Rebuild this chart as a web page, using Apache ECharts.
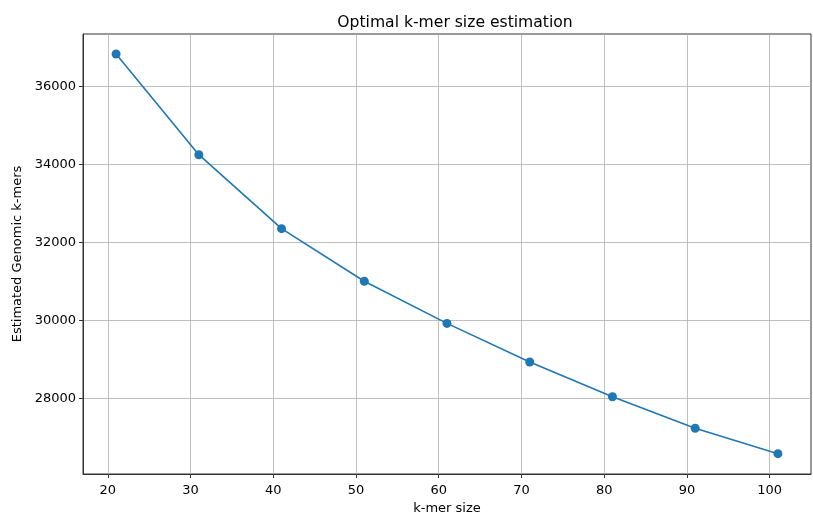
<!DOCTYPE html>
<html>
<head>
<meta charset="utf-8">
<script src="https://cdn.jsdelivr.net/npm/echarts@6/dist/echarts.min.js"></script>
<style>
  html, body { margin: 0; padding: 0; background: #fff; }
  #main { width: 813px; height: 513px; }
</style>
</head>
<body>
<div id="main"></div>
<script>
// k-mer sizes and estimated genomic k-mers
var kmerSizes = [21, 31, 41, 51, 61, 71, 81, 91, 101];
var genomicKmers = [36838, 34256, 32359, 31012, 29931, 28941, 28051, 27241, 26590];
var xTicks = [20, 30, 40, 50, 60, 70, 80, 90, 100];
var yTicks = [28000, 30000, 32000, 34000, 36000];

var myChart = echarts.init(document.getElementById('main'));

var font = 'DejaVu Sans';
var gridLine = { show: true, lineStyle: { color: '#b0b0b0', width: 0.8 } };
var spine = { show: true, onZero: false, lineStyle: { color: '#333', width: 1 } };

option = {
    animation: false,
    title: {
        text: 'Optimal k-mer size estimation',
        left: 450, top: 10, textAlign: 'center',
        textStyle: { fontFamily: font, fontSize: 15.6, fontWeight: 'normal', color: '#000' }
    },
    grid: { left: 83, right: 2, top: 34, bottom: 39, containLabel: false,
            outerBoundsMode: 'none',
            show: true, borderColor: '#333', borderWidth: 1 },
    xAxis: {
        type: 'value',
        min: 17, max: 105,
        name: 'k-mer size',
        nameLocation: 'middle', nameGap: 26,
        nameTextStyle: { fontFamily: font, fontSize: 13, color: '#000' },
        axisLine: spine,
        axisTick: { show: true, length: 4, inside: false, customValues: xTicks, lineStyle: { color: '#333' } },
        axisLabel: { customValues: xTicks, fontFamily: font, fontSize: 13, color: '#000', margin: 10 },
        splitLine: gridLine
    },
    yAxis: {
        type: 'value',
        min: 26069, max: 37351,
        name: 'Estimated Genomic k-mers',
        nameLocation: 'middle', nameGap: 58,
        nameTextStyle: { fontFamily: font, fontSize: 13, color: '#000' },
        axisLine: spine,
        axisTick: { show: true, length: 4, inside: false, customValues: yTicks, lineStyle: { color: '#333' } },
        axisLabel: { customValues: yTicks, formatter: function (v) { return String(v); },
                     fontFamily: font, fontSize: 13, color: '#000', margin: 7 },
        splitLine: gridLine
    },
    series: [{
        type: 'line',
        data: kmerSizes.map(function (k, i) { return [k, genomicKmers[i]]; }),
        symbol: 'circle',
        symbolSize: 9,
        showAllSymbol: true,
        itemStyle: { color: '#1f77b4' },
        lineStyle: { color: '#1f77b4', width: 1.6 }
    }]
};

myChart.setOption(option);
</script>
</body>
</html>
